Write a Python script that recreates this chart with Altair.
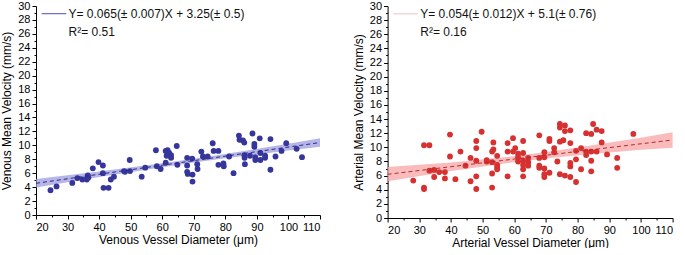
import altair as alt
import pandas as pd

# ---------------- data ----------------
ven_x = [24.6, 26.5, 31.5, 33.1, 34.7, 36.1, 36.4, 36.6, 38.0, 39.8, 41.2, 41.2, 41.4, 43.0,
         43.7, 44.7, 47.9, 48.2, 49.7, 49.8, 53.5, 54.6, 58.0, 58.3, 59.5, 61.1, 61.1, 61.4,
         61.7, 62.2, 62.8, 64.6, 64.8, 67.9, 67.9, 67.9, 68.1, 69.5, 69.6, 69.6, 71.1, 71.2,
         72.4, 72.9, 74.4, 76.0, 76.3, 77.8, 77.8, 79.4, 79.5, 81.2, 82.6, 84.3, 84.5, 85.6,
         86.0, 86.0, 86.1, 86.2, 87.8, 88.6, 89.2, 89.2, 89.5, 89.5, 90.9, 91.1, 91.1, 92.6,
         92.6, 94.3, 94.3, 95.9, 97.8, 99.3, 102.6, 104.3, 62.8]
ven_y = [3.55, 4.1, 4.6, 5.3, 5.1, 5.1, 5.7, 5.4, 6.7, 7.6, 7.1, 6.0, 3.9, 3.9,
         5.1, 5.5, 6.3, 6.2, 7.9, 6.3, 5.5, 6.8, 9.3, 7.0, 6.6, 7.5, 9.2, 8.5,
         9.3, 8.9, 8.2, 9.9, 7.2, 8.2, 7.1, 6.2, 5.9, 8.1, 5.8, 4.8, 7.3, 6.6,
         9.1, 8.4, 8.4, 10.3, 9.2, 9.2, 7.2, 7.4, 7.0, 8.4, 6.0, 11.4, 10.8, 10.7,
         10.4, 8.6, 8.2, 7.3, 8.5, 11.7, 10.2, 9.8, 8.3, 7.9, 11.0, 8.9, 7.9, 8.5,
         8.2, 10.9, 6.5, 8.4, 9.2, 10.3, 9.5, 8.3, 8.6]

art_x = [28.1, 31.5, 33.2, 31.5, 31.5, 33.2, 34.7, 34.7, 36.3, 38.1, 38.1, 39.7, 39.7, 41.4,
         43.0, 44.6, 46.2, 46.2, 48.0, 48.0, 48.0, 48.0, 48.0, 49.7, 51.3, 51.3, 53.0, 53.0,
         53.0, 53.4, 53.0, 53.4, 54.6, 54.6, 54.6, 54.6, 57.9, 57.9, 57.9, 59.6, 59.6, 60.3,
         61.2, 61.2, 61.2, 62.8, 62.8, 62.8, 62.8, 62.8, 62.8, 64.4, 64.4, 64.4, 67.9, 67.9,
         67.9, 67.9, 69.5, 69.5, 69.5, 69.5, 69.5, 71.1, 71.1, 71.1, 72.6, 72.6, 73.6, 74.4,
         74.4, 74.4, 74.4, 76.0, 76.0, 75.5, 76.0, 77.7, 77.7, 77.7, 77.7, 77.7, 79.5, 79.5,
         79.5, 81.1, 81.1, 82.7, 82.7, 82.7, 84.3, 84.3, 84.3, 84.3, 84.9, 86.0, 86.0, 87.6,
         87.6, 89.3, 92.5, 92.5, 97.6]
art_y = [5.3, 10.3, 10.3, 4.3, 4.1, 6.7, 6.8, 5.8, 6.5, 6.5, 5.6, 11.8, 8.7, 5.5,
         9.4, 7.4, 8.5, 5.2, 10.9, 9.9, 8.1, 5.9, 4.1, 12.2, 8.2, 8.0, 7.9, 6.3,
         4.3, 10.7, 9.4, 9.7, 8.8, 7.5, 6.9, 7.2, 10.6, 9.4, 5.9, 11.3, 9.4, 9.9,
         9.1, 8.6, 8.0, 10.9, 9.2, 8.1, 7.5, 6.9, 5.9, 8.5, 7.9, 7.4, 11.7, 8.5,
         7.4, 7.1, 9.3, 8.6, 7.0, 6.2, 5.8, 11.2, 10.9, 6.4, 9.9, 9.3, 8.0, 13.3,
         12.8, 10.8, 6.2, 13.1, 12.3, 11.0, 6.0, 12.4, 10.6, 7.8, 7.3, 5.8, 9.5, 8.3,
         5.1, 9.9, 6.9, 12.0, 9.4, 8.9, 11.9, 9.4, 8.1, 6.6, 13.3, 12.5, 9.4, 12.3,
         10.7, 9.0, 8.5, 7.1, 11.9]

# confidence bands
band_x = [20, 40, 60, 70, 80, 100, 110]
ven_lo = [3.95, 5.45, 6.87, 7.54, 8.15, 9.27, 9.80]
ven_hi = [5.15, 6.25, 7.43, 8.06, 8.75, 10.23, 11.00]
art_lo = [5.20, 6.65, 7.90, 8.43, 8.87, 9.65, 9.95]
art_hi = [7.20, 7.85, 8.75, 9.33, 9.97, 11.35, 12.15]

# fit equations as printed in the chart
ven_slope, ven_icpt = 0.065, 3.25
art_slope, art_icpt = 0.054, 5.1
fit_x = [20, 110]

ven_eq = "Y= 0.065(\u00b1 0.007)X + 3.25(\u00b1 0.5)"
ven_r2 = "R\u00b2= 0.51"
art_eq = "Y= 0.054(\u00b1 0.012)X + 5.1(\u00b1 0.76)"
art_r2 = "R\u00b2= 0.16"

x_ticks = list(range(20, 111, 5))
y_ticks = list(range(0, 31, 1))

FONT = "Liberation Sans"


def panel(px, py, lo, hi, slope, icpt, eq, r2, pt_color, band_color, line_color,
          legend_color, xtitle, ytitle, w, h):
    pts = pd.DataFrame({"x": px, "y": py})
    band = pd.DataFrame({"x": band_x, "lo": lo, "hi": hi})
    fit = pd.DataFrame({"x": fit_x, "y": [slope * v + icpt for v in fit_x]})
    leg = pd.DataFrame({"x": [21.8, 29.6], "y": [28.9, 28.9]})
    txt = pd.DataFrame({"x": [30.3, 30.3], "y": [28.9, 26.3], "t": [eq, r2]})

    xs = alt.Scale(domain=[20, 110], nice=False, zero=False)
    ys = alt.Scale(domain=[0, 30], nice=False, zero=False)

    xaxis = alt.Axis(
        values=x_ticks, tickCount=100, format="d",
        labelExpr="datum.value % 10 === 0 ? datum.label : ''",
        tickSize={"condition": {"test": "datum.value % 10 === 0", "value": 4}, "value": 2},
        labelOverlap=False, grid=False, title=xtitle, titlePadding=2,
    )
    yaxis = alt.Axis(
        values=y_ticks, tickCount=100, format="d",
        labelExpr="datum.value % 2 === 0 ? datum.label : ''",
        tickSize={"condition": {"test": "datum.value % 2 === 0", "value": 4}, "value": 2},
        labelOverlap=False, grid=False, title=ytitle, titlePadding=4,
    )

    b = alt.Chart(band).mark_area(color=band_color, opacity=0.75).encode(
        x=alt.X("x:Q", scale=xs, axis=xaxis),
        y=alt.Y("lo:Q", scale=ys, axis=yaxis),
        y2="hi:Q",
    )
    p = alt.Chart(pts).mark_circle(size=34, color=pt_color, opacity=1).encode(
        x=alt.X("x:Q", scale=xs), y=alt.Y("y:Q", scale=ys)
    )
    f = alt.Chart(fit).mark_line(color=line_color, strokeDash=[4, 3], strokeWidth=1).encode(
        x=alt.X("x:Q", scale=xs), y=alt.Y("y:Q", scale=ys)
    )
    lg = alt.Chart(leg).mark_line(color=legend_color, strokeWidth=1.2).encode(
        x=alt.X("x:Q", scale=xs), y=alt.Y("y:Q", scale=ys)
    )
    t = alt.Chart(txt).mark_text(align="left", baseline="middle", fontSize=12,
                                 font=FONT, color="#111111").encode(
        x=alt.X("x:Q", scale=xs), y=alt.Y("y:Q", scale=ys), text="t:N"
    )
    return alt.layer(b, p, f, lg, t).properties(width=w, height=h)


left = panel(ven_x, ven_y, ven_lo, ven_hi, ven_slope, ven_icpt, ven_eq, ven_r2,
             "#35359c", "#9c9ce0", "#2a2a80", "#6a6abf",
             "Venous Vessel Diameter (\u03bcm)", "Venous Mean Velocity (mm/s)", 284, 209)
right = panel(art_x, art_y, art_lo, art_hi, art_slope, art_icpt, art_eq, art_r2,
              "#d63030", "#f7a4a4", "#b82a2a", "#f4cccc",
              "Arterial Vessel Diameter (\u03bcm)", "Arterial Mean Velocity (mm/s)", 285, 212)

chart = alt.hconcat(left, right, spacing=67.6, bounds="flush").properties(
    padding={"left": 0, "top": 0, "right": 0, "bottom": 0}
).configure_view(stroke=None).configure_axis(
    domainColor="#000000", tickColor="#000000", labelColor="#000000",
    titleColor="#000000", labelFont=FONT, titleFont=FONT, labelFontSize=11,
    titleFontSize=12, titleFontWeight="normal", domainWidth=1, tickWidth=1,
    labelPadding=2,
)

chart.save("out.html", embed_options={"renderer": "svg", "actions": False})
